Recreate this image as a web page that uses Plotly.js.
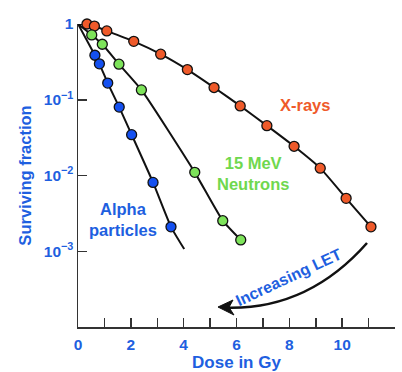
<!DOCTYPE html>
<html>
<head>
<meta charset="utf-8">
<script src="https://cdn.plot.ly/plotly-3.0.1.min.js"></script>
<style>html,body{margin:0;padding:0;background:#fff;}#chart{width:402px;height:372px;}</style>
</head>
<body>
<div id="chart"></div>
<script>
// Data
const xrayDose = [0.34, 0.62, 1.09, 2.11, 3.13, 4.14, 5.15, 6.14, 7.15, 8.18, 9.17, 10.15, 11.09];
const xrayFrac = [1.0, 0.94, 0.81, 0.59, 0.40, 0.25, 0.145, 0.083, 0.0455, 0.0243, 0.0125, 0.0050, 0.0021];

const neutronDose = [0.52, 0.92, 1.55, 2.40, 4.42, 5.48, 6.16];
const neutronFrac = [0.717, 0.54, 0.295, 0.135, 0.0110, 0.00253, 0.00141];

const alphaDose = [0.64, 0.81, 1.125, 1.56, 2.03, 2.84, 3.52];
const alphaFrac = [0.387, 0.298, 0.166, 0.080, 0.0346, 0.0081, 0.0021];

// Fitted curves (start at dose 0, fraction 1)
const xrayCurveDose = [0].concat(xrayDose);
const xrayCurveFrac = [1].concat(xrayFrac);
const neutronCurveDose = [0].concat(neutronDose);
const neutronCurveFrac = [1].concat(neutronFrac);
const alphaCurveDose = [0].concat(alphaDose, [4.02]);
const alphaCurveFrac = [1].concat(alphaFrac, [0.00107]);

const xTickVals = [0, 2, 4, 6, 8, 10, 12];
const yTickVals = [1, 0.1, 0.01, 0.001];
const yTickText = ['1', '10<sup>−1</sup>', '10<sup>−2</sup>', '10<sup>−3</sup>'];

const BLUE = '#1e5fe0';
const ORANGE = '#ef5a2a';
const GREEN = '#7de35a';
const GREEN_TXT = '#6fd84e';
const FONT = 'Liberation Sans, Arial, sans-serif';

function curve(x, y) {
  return {x: x, y: y, type: 'scatter', mode: 'lines', cliponaxis: false,
    line: {color: '#111', width: 2, shape: 'spline', smoothing: 0.5}, hoverinfo: 'skip', showlegend: false};
}
function pts(x, y, color, name) {
  return {x: x, y: y, type: 'scatter', mode: 'markers', name: name, cliponaxis: false,
    marker: {size: 10, color: color, line: {color: '#111', width: 1.3}}, showlegend: false};
}

const data = [
  curve(xrayCurveDose, xrayCurveFrac),
  curve(neutronCurveDose, neutronCurveFrac),
  curve(alphaCurveDose, alphaCurveFrac),
  pts(xrayDose, xrayFrac, ORANGE, 'X-rays'),
  pts(neutronDose, neutronFrac, GREEN, '15 MeV Neutrons'),
  pts(alphaDose, alphaFrac, '#1450f0', 'Alpha particles')
];

const layout = {
  width: 402, height: 372,
  margin: {l: 78, r: 7, t: 24, b: 45},
  paper_bgcolor: '#fff', plot_bgcolor: '#fff',
  showlegend: false,
  xaxis: {
    range: [0, 12], tickvals: xTickVals, ticks: 'inside', ticklen: 9, tickwidth: 1.5, tickcolor: '#333',
    showline: true, linecolor: '#333', linewidth: 1.5, showgrid: false, zeroline: false,
    minor: {dtick: 1, tick0: 0, ticks: 'inside', ticklen: 9, tickwidth: 1.5, tickcolor: '#333', showgrid: false},
    tickfont: {family: FONT, size: 15.5, color: BLUE, weight: 'bold'},
    ticklabelstandoff: 3,
    title: {text: 'Dose in Gy', standoff: 4, font: {family: FONT, size: 17, color: BLUE, weight: 'bold'}}
  },
  yaxis: {
    type: 'log', range: [-4, 0], tickvals: yTickVals, ticktext: yTickText,
    ticks: 'inside', ticklen: 9, tickwidth: 1.5, tickcolor: '#333',
    showline: true, linecolor: '#333', linewidth: 1.5, showgrid: false, zeroline: false,
    tickfont: {family: FONT, size: 15.5, color: BLUE, weight: 'bold'},
    title: {text: 'Surviving fraction', standoff: 8, font: {family: FONT, size: 16.5, color: BLUE, weight: 'bold'}}
  },
  annotations: [
    {xref: 'paper', yref: 'paper', x: 0.716, y: 0.733, xanchor: 'center', yanchor: 'middle',
     text: 'X-rays', showarrow: false,
     font: {family: FONT, size: 16.5, color: ORANGE, weight: 'bold'}},
    {xref: 'paper', yref: 'paper', x: 0.552, y: 0.505, xanchor: 'center', yanchor: 'middle',
     text: '15 MeV<br>Neutrons', showarrow: false,
     font: {family: FONT, size: 16.5, color: GREEN_TXT, weight: 'bold'}},
    {xref: 'paper', yref: 'paper', x: 0.142, y: 0.356, xanchor: 'center', yanchor: 'middle',
     text: 'Alpha<br>particles', showarrow: false,
     font: {family: FONT, size: 16.5, color: BLUE, weight: 'bold'}},
    {xref: 'paper', yref: 'paper', x: 0.6625, y: 0.165, xanchor: 'center', yanchor: 'middle',
     text: 'Increasing LET', showarrow: false, textangle: -25,
     font: {family: FONT, size: 16, color: BLUE, weight: 'bold'}}
  ],
  shapes: [
    {type: 'path', xref: 'paper', yref: 'paper',
     path: 'M 0.9117 0.2772 Q 0.7224 0.0528 0.4600 0.0640',
     line: {color: '#111', width: 2.5}},
    {type: 'path', xref: 'paper', yref: 'paper',
     path: 'M 0.4416 0.066 L 0.4890 0.0891 L 0.4763 0.065 L 0.4921 0.0396 Z',
     fillcolor: '#111', line: {color: '#111', width: 1}}
  ]
};

Plotly.newPlot('chart', data, layout, {displayModeBar: false, staticPlot: true});
</script>
</body>
</html>
